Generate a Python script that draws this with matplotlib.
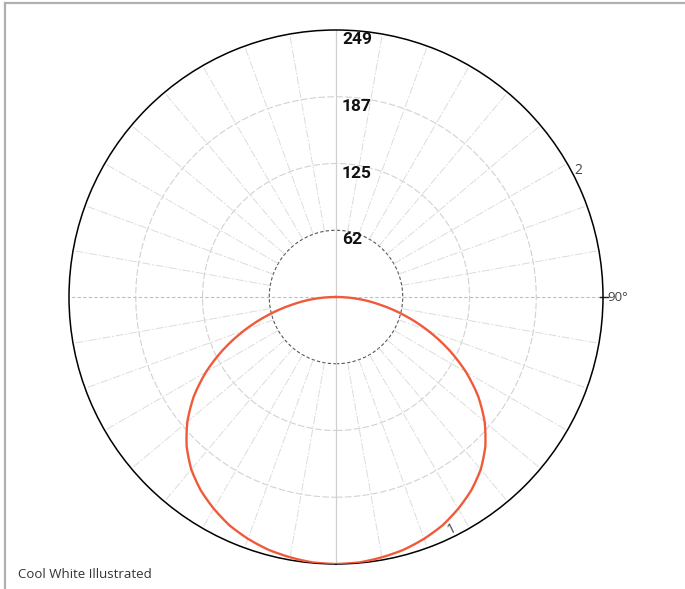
import numpy as np
import matplotlib
matplotlib.use('Agg')
import matplotlib.pyplot as plt
from matplotlib.lines import Line2D

# half-lobe readings, 0 deg = straight down, 90 deg = horizontal
angles_deg = [0, 5, 10, 15, 20, 25, 30, 35, 40, 45, 50, 55, 60, 65, 70, 75, 80, 85, 90]
intensity = [249, 248.5, 246.5, 244, 240, 235, 228, 220, 210, 197, 181, 162, 140, 116, 91, 66, 42, 21, 0]

ring_values = [62, 125, 187, 249]
ring_labels = ['62', '125', '187', '249']
r_max = 249
title = 'Cool White Illustrated'

# mirror to get the full curve (symmetric lobe)
th_half = np.deg2rad(angles_deg)
theta = np.concatenate([-th_half[::-1], th_half[1:]])
r = np.concatenate([np.array(intensity)[::-1], np.array(intensity)[1:]])

fig = plt.figure(figsize=(6.85, 5.89), dpi=100)
W, H = 685, 589
cx, cy, rad = 336, 297, 267
ax = fig.add_axes([(cx - rad) / W, (H - cy - rad) / H, 2 * rad / W, 2 * rad / H],
                  projection='polar')
ax.set_theta_zero_location('S')
ax.set_theta_direction(1)
ax.set_ylim(0, r_max)
ax.set_xticks([])
ax.set_yticks([])
ax.grid(False)
ax.spines['polar'].set_color('black')
ax.spines['polar'].set_linewidth(1.1)

full = np.linspace(0, 2 * np.pi, 400)
ring_step = r_max / 4
# rings
ax.plot(full, np.full_like(full, ring_step), color='#555555', lw=0.8, ls=(0, (3, 2)))
for k in (2, 3):
    ax.plot(full, np.full_like(full, ring_step * k), color='#d2d2d2', lw=0.8, ls=(0, (6, 2)))

# spokes every 10 degrees from inner ring to outside
for a in range(0, 360, 10):
    if a % 90 == 0:
        continue
    t = np.deg2rad(a)
    ax.plot([t, t], [ring_step, r_max], color='#dadada', lw=0.65, ls=(0, (9, 2, 2, 2)))

# vertical axis through the centre
ax.plot([0, 0], [0, r_max], color='#d0d0d0', lw=0.9)
ax.plot([np.pi, np.pi], [0, r_max], color='#d0d0d0', lw=0.9)
# horizontal axis through the centre (light blue dashed)
ax.plot([np.pi / 2, np.pi / 2], [0, r_max * 1.012], color='#9ccbd9', lw=0.8,
        ls=(0, (3, 2)), clip_on=False)
ax.plot([3 * np.pi / 2, 3 * np.pi / 2], [0, r_max], color='#9ccbd9', lw=0.8, ls=(0, (3, 2)))
ax.plot([np.pi / 2, np.pi / 2], [r_max * 0.99, r_max * 1.02], color='#222222', lw=1.0,
        clip_on=False)

# intensity curve, interpolated along theta/r by the polar transform
curve, = ax.plot(theta, r, color='#f05a3a', lw=1.7, zorder=5)
curve.get_path()._interpolation_steps = 12

# ring labels
for k, lab in enumerate(ring_labels):
    ax.annotate(lab, xy=(np.pi, ring_step * (k + 1)),
                xytext=(4.3, -7.0), textcoords='offset points', ha='left', va='center',
                fontsize=12.5, fontweight='bold', color='#111111',
                family=['Roboto', 'DejaVu Sans'])

# plane / angle labels
ax.annotate('90°', xy=(np.pi / 2, r_max), xytext=(3, 0), textcoords='offset points',
            ha='left', va='center', fontsize=9.5, color='#444444',
            family=['Open Sans', 'DejaVu Sans'], annotation_clip=False)
ax.annotate('2', xy=(np.deg2rad(118), r_max), xytext=(2, 1), textcoords='offset points',
            ha='left', va='center', fontsize=10, color='#444444',
            family=['Open Sans', 'DejaVu Sans'], annotation_clip=False)
ax.annotate('1', xy=(np.deg2rad(26), r_max), xytext=(-1, 6), textcoords='offset points',
            ha='center', va='center', fontsize=10, color='#444444', rotation=26,
            family=['Open Sans', 'DejaVu Sans'])

fig.text(18 / W, 1 - 575 / H, title, ha='left', va='center', fontsize=9.5,
         color='#333333', family=['Open Sans', 'DejaVu Sans'])

# frame lines on the left and top
fig.add_artist(Line2D([5 / W, 5 / W], [0, 1 - 3 / H], color='#b0b0b0', lw=1.6,
                      transform=fig.transFigure))
fig.add_artist(Line2D([5 / W, 1], [1 - 3 / H, 1 - 3 / H], color='#b0b0b0', lw=1.6,
                      transform=fig.transFigure))

fig.savefig('out.png', dpi=100)
